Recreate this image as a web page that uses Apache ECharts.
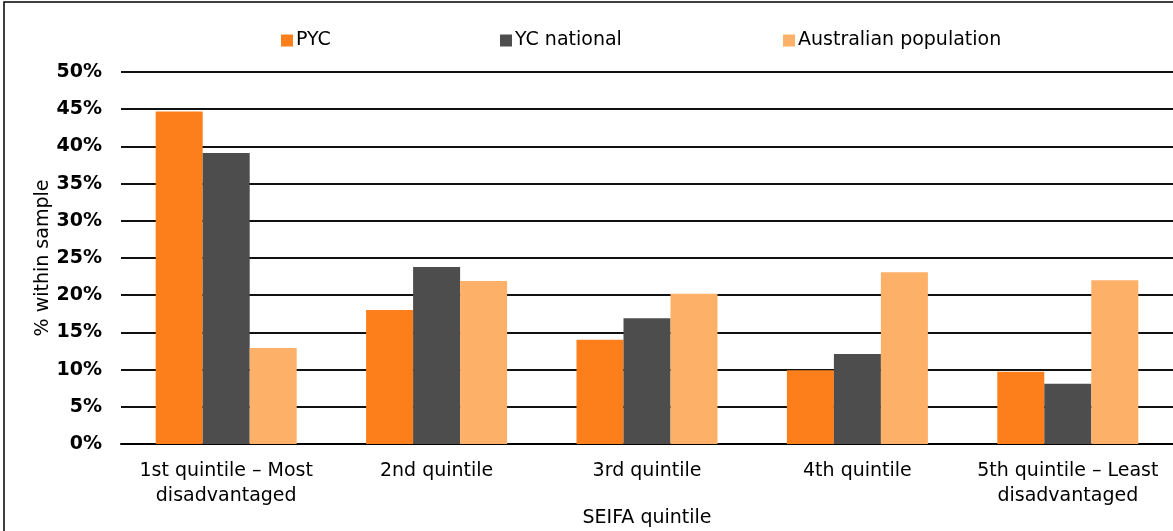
<!DOCTYPE html>
<html>
<head>
<meta charset="utf-8">
<script src="https://cdn.jsdelivr.net/npm/echarts@6/dist/echarts.min.js"></script>
<style>
  html, body { margin: 0; padding: 0; background: #fff; }
  #chart { width: 1173px; height: 531px; }
</style>
</head>
<body>
<div id="chart"></div>
<script>
var categories = ['1st quintile – Most\ndisadvantaged', '2nd quintile', '3rd quintile', '4th quintile', '5th quintile – Least\ndisadvantaged'];
var pycValues = [44.7, 18.0, 14.0, 9.9, 9.7];
var ycNationalValues = [39.1, 23.8, 16.9, 12.1, 8.1];
var ausPopValues = [12.9, 21.9, 20.2, 23.1, 22.0];
var yTicks = [0, 5, 10, 15, 20, 25, 30, 35, 40, 45, 50];

var font = 'DejaVu Sans';

var chart = echarts.init(document.getElementById('chart'));

var legendText = { fontFamily: font, fontSize: 19, color: '#000', padding: [0, 0, 0, -2] };

var option = {
  animation: false,
  backgroundColor: '#fff',
  graphic: [{
    type: 'rect',
    shape: { x: 4, y: 2, width: 1200, height: 600 },
    style: { fill: 'none', stroke: '#000', lineWidth: 1.5 },
    silent: true
  }],
  legend: [
    { data: ['PYC'], left: 276, top: 26, itemWidth: 12, itemHeight: 12, itemGap: 0, textStyle: legendText, icon: 'rect' },
    { data: ['YC national'], left: 495, top: 26, itemWidth: 12, itemHeight: 12, itemGap: 0, textStyle: legendText, icon: 'rect' },
    { data: ['Australian population'], left: 778, top: 26, itemWidth: 12, itemHeight: 12, itemGap: 0, textStyle: legendText, icon: 'rect' }
  ],
  grid: {
    left: 121,
    right: 0,
    top: 72,
    bottom: 87,
    containLabel: false,
    outerBoundsMode: 'none'
  },
  xAxis: {
    type: 'category',
    data: categories,
    name: 'SEIFA quintile',
    nameLocation: 'middle',
    nameGap: 65,
    nameMoveOverlap: false,
    nameTextStyle: { fontFamily: font, fontSize: 19, color: '#000' },
    axisLine: { lineStyle: { color: '#000', width: 2 } },
    axisTick: { show: false },
    axisLabel: {
      fontFamily: font,
      fontSize: 19,
      color: '#000',
      lineHeight: 25,
      margin: 15,
      interval: 0
    }
  },
  yAxis: {
    type: 'value',
    min: 0,
    max: 50,
    interval: 5,
    name: '% within sample',
    nameLocation: 'middle',
    nameGap: 68,
    nameMoveOverlap: false,
    nameRotate: 90,
    nameTextStyle: { fontFamily: font, fontSize: 19, color: '#000' },
    axisLine: { show: false },
    axisTick: { show: false },
    splitLine: { lineStyle: { color: '#111', width: 2 } },
    axisLabel: {
      fontFamily: font,
      fontSize: 19,
      fontWeight: 'bold',
      color: '#000',
      margin: 19,
      formatter: function (v) {
        return yTicks.indexOf(v) >= 0 ? v + '%' : '';
      }
    }
  },
  series: [
    {
      name: 'PYC',
      type: 'bar',
      data: pycValues,
      barWidth: 47,
      barGap: '0%',
      itemStyle: { color: '#FD7F1B' }
    },
    {
      name: 'YC national',
      type: 'bar',
      data: ycNationalValues,
      barWidth: 47,
      barGap: '0%',
      itemStyle: { color: '#4D4D4D' }
    },
    {
      name: 'Australian population',
      type: 'bar',
      data: ausPopValues,
      barWidth: 47,
      barGap: '0%',
      itemStyle: { color: '#FDB168' }
    }
  ]
};

chart.setOption(option);
</script>
</body>
</html>
